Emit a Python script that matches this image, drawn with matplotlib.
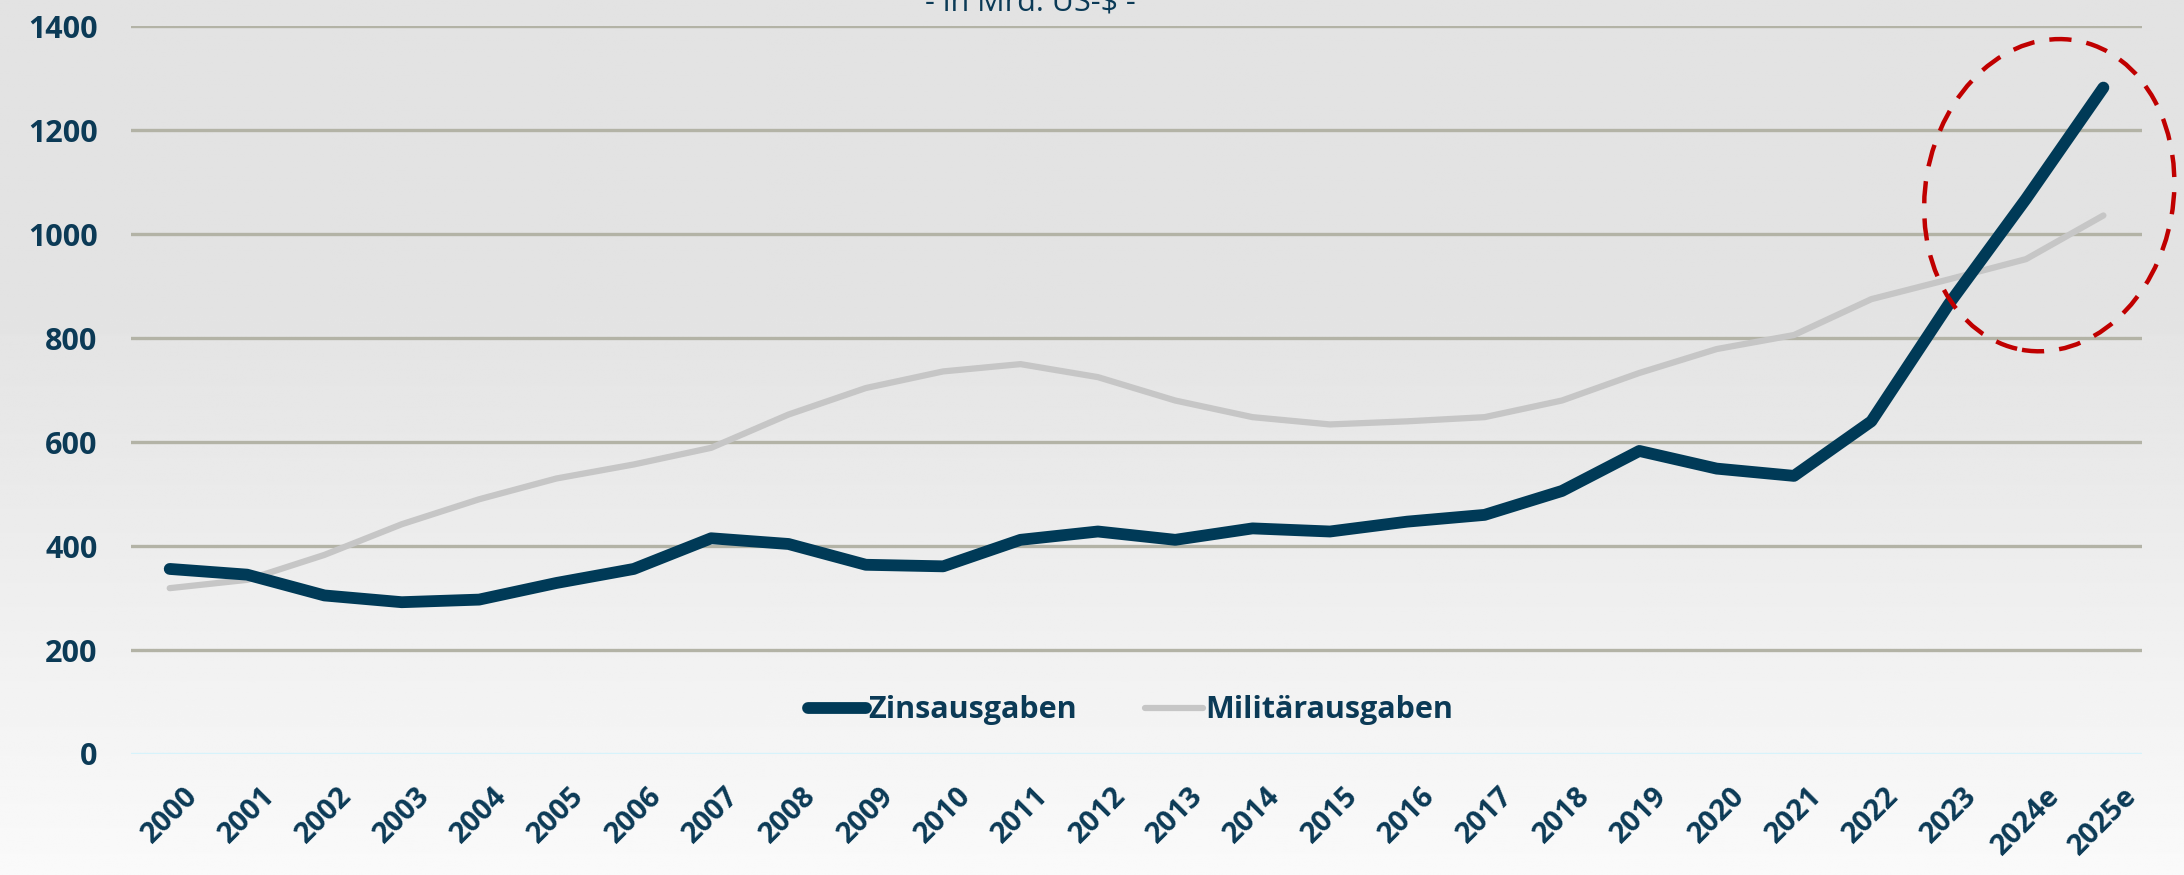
import numpy as np
import matplotlib
matplotlib.use("Agg")
import matplotlib.pyplot as plt
from matplotlib.patches import Ellipse

years = ["2000", "2001", "2002", "2003", "2004", "2005", "2006", "2007", "2008",
         "2009", "2010", "2011", "2012", "2013", "2014", "2015", "2016", "2017",
         "2018", "2019", "2020", "2021", "2022", "2023", "2024e", "2025e"]
zins = [356, 345, 305, 292, 297, 329, 356, 415, 404, 364, 361, 412, 428, 412,
        434, 428, 447, 460, 506, 583, 549, 535, 640, 865, 1068, 1282]
militaer = [319, 335, 383, 442, 490, 530, 557, 589, 653, 704, 736, 750, 725, 680,
            648, 634, 640, 648, 680, 733, 779, 806, 875, 913, 952, 1036]
yticks = [0, 200, 400, 600, 800, 1000, 1200, 1400]

navy = "#0b3a56"
plt.rcParams["font.family"] = ["Open Sans", "DejaVu Sans"]

fig = plt.figure(figsize=(21.84, 8.75), dpi=100)

# background gradient
bg = fig.add_axes([0, 0, 1, 1], zorder=-10)
t = np.linspace(0, 1, 400)
shade = np.where(t < 0.35, 0.89, 0.89 + (t - 0.35) / 0.65 * 0.09)
bg.imshow(np.tile(shade[:, None], (1, 10)), cmap="gray", vmin=0, vmax=1,
          aspect="auto", extent=[0, 1, 0, 1], origin="upper")
bg.axis("off")

ax = fig.add_axes([0.060, 0.1383, 0.9208, 0.8317])
ax.patch.set_alpha(0)
x = np.arange(len(years))

for v in yticks[1:]:
    ax.axhline(v, color="#b3b3a6", lw=2.4, zorder=1)
ax.axhline(0, color="#d6f3fb", lw=2.4, zorder=1)

ax.plot(x, militaer, color="#c6c6c6", lw=4.5, solid_capstyle="round",
        solid_joinstyle="round", zorder=3, label="Militärausgaben")
ax.plot(x, zins, color="#003a57", lw=8.5, solid_capstyle="round",
        solid_joinstyle="round", zorder=4, label="Zinsausgaben")

ax.set_xlim(-0.5, len(years) - 0.5)
ax.set_ylim(0, 1400)
ax.set_yticks(yticks)
ax.set_xticks(x)
ax.set_xticklabels(years, rotation=45, ha="center")
for s in ax.spines.values():
    s.set_visible(False)
ax.tick_params(axis="both", length=0, colors=navy, labelsize=21)
ax.tick_params(axis="y", labelsize=22, pad=24)
ax.tick_params(axis="x", pad=20)
for lab in ax.get_xticklabels() + ax.get_yticklabels():
    lab.set_fontweight("bold")
    lab.set_color(navy)

h, l = ax.get_legend_handles_labels()
leg = ax.legend(h[::-1], l[::-1], loc="center", bbox_to_anchor=(0.497, 0.06),
                ncol=2, frameon=False, handlelength=1.9, handletextpad=0.1,
                columnspacing=2.2, prop={"size": 22, "weight": "bold"})
for txt in leg.get_texts():
    txt.set_color(navy)

fig.text(0.472, 0.997, "- in Mrd. US-$ -", ha="center", va="center",
         fontsize=22, color=navy)

# dashed highlight ellipse around 2023-2025e
fig.canvas.draw()
cx, cy = ax.transData.transform((24.3, 1075))
ell = Ellipse((cx / fig.dpi, cy / fig.dpi), 248 / fig.dpi, 314 / fig.dpi,
              angle=-10, transform=fig.dpi_scale_trans, fill=False,
              edgecolor="#c00000", lw=3.2, linestyle=(0, (5, 3.4)), zorder=5)
fig.add_artist(ell)

fig.savefig("out.png", dpi=100)
